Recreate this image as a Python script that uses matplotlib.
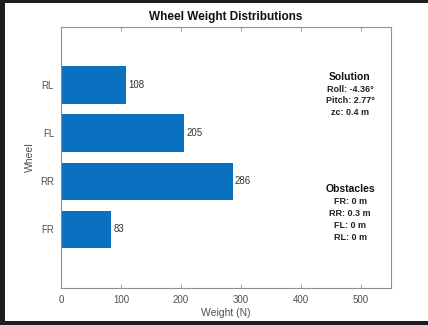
import matplotlib
matplotlib.use("Agg")
import matplotlib.pyplot as plt
from matplotlib.patches import Rectangle

wheels = ["FR", "RR", "FL", "RL"]
weights = [83, 286, 205, 108]
xticks = [0, 100, 200, 300, 400, 500]
solution_lines = ["Roll: -4.36°", "Pitch: 2.77°", "zc: 0.4 m"]
obstacle_lines = ["FR: 0 m", "RR: 0.3 m", "FL: 0 m", "RL: 0 m"]

plt.rcParams['font.family'] = ['Liberation Sans', 'DejaVu Sans']

W, H = 428, 325
fig = plt.figure(figsize=(W/100, H/100), dpi=100, facecolor="#1e1e1e")
fig.patches.append(Rectangle((5/W, 4/H), 1 - 5/W, 1 - 7/H, transform=fig.transFigure,
                             facecolor="white", edgecolor="none", zorder=-10))

ax = fig.add_axes([61/W, 1 - 288/H, (391-61)/W, (288-27)/H])
ax.set_facecolor("white")
ypos = list(range(1, len(wheels) + 1))
ax.barh(ypos, weights, height=0.78, color="#0a70c0", zorder=2)
for y, v in zip(ypos, weights):
    ax.text(v + 4, y, f"{v}", va="center", ha="left", fontsize=7, color="#333333")

ax.set_xlim(0, 550)
ax.set_ylim(-0.22, 5.21)
ax.set_xticks(xticks)
ax.set_yticks(ypos)
ax.set_yticklabels(wheels)
ax.tick_params(direction="in", length=3, width=0.6, colors="#909090", labelsize=7,
               top=True, right=False, pad=5)
ax.tick_params(axis="x", labelcolor="#505050")
ax.tick_params(axis="y", labelcolor="#505050")
for s in ax.spines.values():
    s.set_color("#909090")
    s.set_linewidth(0.8)

ax.set_title("Wheel Weight Distributions", fontsize=8.5, fontweight="bold", pad=5, color="#111111")
ax.set_xlabel("Weight (N)", fontsize=7.5, color="#505050", labelpad=2)
ax.set_ylabel("Wheel", fontsize=7.5, color="#505050", labelpad=4)

def fy(py):
    return 1 - py / H

xc = 350 / W
fig.text(xc, fy(77), "Solution", ha="center", va="center", fontsize=7.5, fontweight="bold", color="#111111")
for i, line in enumerate(solution_lines):
    fig.text(xc, fy(89 + 11.7 * i), line, ha="center", va="center", fontsize=6.5, fontweight="bold", color="#222222")
fig.text(xc, fy(189), "Obstacles", ha="center", va="center", fontsize=7.5, fontweight="bold", color="#111111")
for i, line in enumerate(obstacle_lines):
    fig.text(xc, fy(201 + 12 * i), line, ha="center", va="center", fontsize=6.5, fontweight="bold", color="#222222")

fig.savefig("out.png", dpi=100, facecolor=fig.get_facecolor())
